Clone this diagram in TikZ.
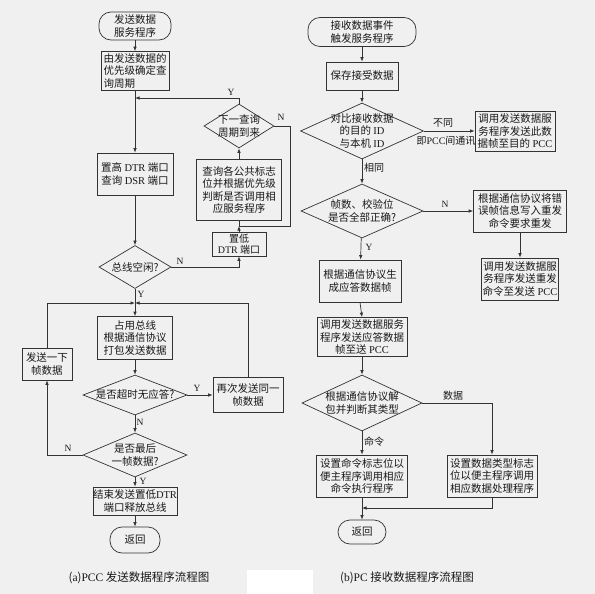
\documentclass[tikz,border=0pt]{standalone}
\usepackage{fontspec}
\setmainfont{Liberation Serif}
\newfontfamily\cjk{Noto Sans CJK SC}
\usetikzlibrary{shapes.geometric,arrows.meta}

\newcommand{\latn}[1]{{\rmfamily #1}}

\tikzset{
  box/.style={draw=black!80, line width=0.7pt, align=center, inner sep=1pt},
  term/.style={box, rounded corners=12pt},
  dec/.style={draw=black!80, line width=0.7pt, diamond, inner sep=0pt},
  yn/.style={font=\rmfamily\fontsize{9.5}{10}\selectfont, inner sep=1pt},
  lbl/.style={font=\cjk\fontsize{10}{11}\selectfont, inner sep=1pt},
  flow/.style={draw=black!80, line width=0.7pt, -{Latex[length=4.5pt,width=3.5pt]}},
  line/.style={draw=black!80, line width=0.7pt},
}

\begin{document}
\begin{tikzpicture}[x=1pt,y=-1pt, font=\cjk\fontsize{10.5}{12.5}\selectfont, text=black!90]
    \fill[gray!12] (0,0) rectangle (595,594);
    \useasboundingbox (0,0) rectangle (595,594);
    \fill[white] (247,570) rectangle (313,594);

    % (a) send
    \node[term, minimum width=72pt, minimum height=28pt] (sendstart) at (135,26) {发送数据\\服务程序};
    \node[box, align=left, minimum width=68pt, minimum height=39pt] (prio) at (135,71) {由发送数据的\\优先级确定查\\询周期};
    \coordinate (m1) at (135,98);
    \node[box, minimum width=76pt, minimum height=42pt] (setdtr) at (135,174) {置高 \latn{DTR} 端口\\查询 \latn{DSR} 端口};
    \node[dec, minimum width=70pt, minimum height=44pt, label={[align=center]center:{下一查询\\周期到来}}] (nextq) at (239,126) {};
    \node[box, minimum width=85pt, minimum height=61pt] (query) at (239,190) {查询各公共标志\\位并根据优先级\\判断是否调用相\\应服务程序};
    \coordinate (j1) at (239,226);
    \coordinate (nr) at (290,226);
    \node[box, minimum width=54pt, minimum height=24pt, inner sep=0pt, font=\cjk\fontsize{10}{11}\selectfont] (lowdtr) at (239,244) {置低\\\latn{DTR} 端口};
    \node[dec, minimum width=72pt, minimum height=43pt, label={center:{总线空闲?}}] (busfree) at (135,267) {};
    \coordinate (m2) at (135,303);
    \node[box, minimum width=75pt, minimum height=43pt] (occupy) at (135,338) {占用总线\\根据通信协议\\打包发送数据};
    \node[dec, minimum width=104pt, minimum height=40pt, label={center:{是否超时无应答?}}] (timeout) at (135,395) {};
    \node[box, minimum width=70pt, minimum height=35pt] (resend) at (248,395) {再次发送同一\\帧数据};
    \node[dec, minimum width=104pt, minimum height=44pt, label={[align=center]center:{是否最后\\一帧数据?}}] (lastframe) at (135,455) {};
    \node[box, minimum width=50pt, minimum height=32pt] (nextframe) at (47,364) {发送一下\\帧数据};
    \node[box, minimum width=84pt, minimum height=28pt, inner sep=0pt] (finish) at (135,501) {结束发送置低\latn{DTR}\\端口释放总线};
    \node[term, minimum width=50pt, minimum height=26pt] (sendret) at (135,540) {返回};

    \draw[flow] (sendstart) -- (prio);
    \draw[line] (prio) -- (m1);
    \draw[flow] (m1) -- (setdtr);
    \draw[flow] (nextq.north) |- (m1);
    \draw[line] (nextq.east) -| (nr) -- (j1);
    \draw[flow] (lowdtr) -- (j1);
    \draw[line] (j1) -- (query);
    \draw[flow] (query) -- (nextq);
    \draw[flow] (setdtr) -- (busfree);
    \draw[flow] (busfree.east) -| (lowdtr.south);
    \draw[flow] (busfree) -- (occupy);
    \draw[flow] (nextframe.north) |- (m2);
    \draw[flow] (resend.north) |- (m2);
    \draw[flow] (occupy) -- (timeout);
    \draw[flow] (timeout.east) -- (resend.west);
    \draw[flow] (timeout) -- (lastframe);
    \draw[flow] (lastframe.west) -| (nextframe.south);
    \draw[flow] (lastframe) -- (finish);
    \draw[flow] (finish) -- (sendret);

    \node[yn] (y1) at (231,92) {Y};
    \node[yn] (n1) at (281,117) {N};
    \node[yn] (n2) at (180,261) {N};
    \node[yn] (y2) at (141,294) {Y};
    \node[yn] (y3) at (197,388) {Y};
    \node[yn] (n3) at (140,422) {N};
    \node[yn] (n4) at (68,448) {N};
    \node[yn] (y4) at (143,481) {Y};
    \node (capa) at (139,578) {\fontsize{11.5}{13}\selectfont(\latn{a})\latn{PCC} 发送数据程序流程图};

    % (b) receive
    \node[term, minimum width=108pt, minimum height=29pt] (recvstart) at (362,32) {接收数据事件\\触发服务程序};
    \node[box, minimum width=72pt, minimum height=28pt] (save) at (362,76) {保存接受数据};
    \node[dec, minimum width=123pt, minimum height=56pt, label={[align=center]center:{对比接收数据\\的目的 \latn{ID}\\与本机 \latn{ID}}}] (cmpid) at (362,131) {};
    \node[box, minimum width=80pt, minimum height=40pt] (tofwd) at (515,131) {调用发送数据服\\务程序发送此数\\据帧至目的 \latn{PCC}};
    \node[dec, minimum width=122pt, minimum height=54pt, label={[align=center]center:{帧数、校验位\\是否全部正确?}}] (chk) at (362,211) {};
    \node[box, minimum width=93pt, minimum height=42pt] (errbox) at (520,211) {根据通信协议将错\\误帧信息写入重发\\命令要求重发};
    \node[box, minimum width=77pt, minimum height=42pt] (resendcmd) at (520,279) {调用发送数据服\\务程序发送重发\\命令至发送 \latn{PCC}};
    \node[box, minimum width=82pt, minimum height=42pt] (reply) at (360,281) {根据通信协议生\\成应答数据帧};
    \node[box, minimum width=90pt, minimum height=39pt] (sendreply) at (362,337) {调用发送数据服务\\程序发送应答数据\\帧至送 \latn{PCC}};
    \node[dec, minimum width=120pt, minimum height=56pt, label={[align=center]center:{根据通信协议解\\包并判断其类型}}] (unpack) at (362,403) {};
    \node[box, minimum width=91pt, minimum height=42pt] (cmdbox) at (362,476) {设置命令标志位以\\便主程序调用相应\\命令执行程序};
    \node[box, minimum width=90pt, minimum height=42pt] (databox) at (492,476) {设置数据类型标志\\位以便主程序调用\\相应数据处理程序};
    \coordinate (j3) at (362,508);
    \node[term, minimum width=48pt, minimum height=24pt] (recvret) at (362,532) {返回};

    \draw[flow] (recvstart) -- (save);
    \draw[flow] (save) -- (cmpid);
    \draw[flow] (cmpid.east) -- (tofwd.west);
    \draw[flow] (cmpid) -- (chk);
    \draw[flow] (chk.east) -- (errbox.west);
    \draw[flow] (errbox) -- (resendcmd);
    \draw[flow] (chk) -- (reply);
    \draw[flow] (reply.south) -- (sendreply.north);
    \draw[flow] (sendreply) -- (unpack);
    \draw[flow] (unpack.east) -| (databox.north);
    \draw[flow] (unpack) -- (cmdbox);
    \draw[flow] (cmdbox) -- (recvret);
    \draw[flow] (databox.south) |- (j3);

    \node[lbl] (diff) at (443,123) {不同};
    \node[lbl] (pcc) at (446,141) {即\latn{PCC}间通讯};
    \node[lbl] (same) at (374,168) {相同};
    \node[yn] (n5) at (445,204) {N};
    \node[yn] (y5) at (369,247) {Y};
    \node[lbl] (data) at (453,396) {数据};
    \node[lbl] (cmd) at (374,442) {命令};
    \node (capb) at (407,578) {\fontsize{11.5}{13}\selectfont(\latn{b})\latn{PC} 接收数据程序流程图};
\end{tikzpicture}
\end{document}
